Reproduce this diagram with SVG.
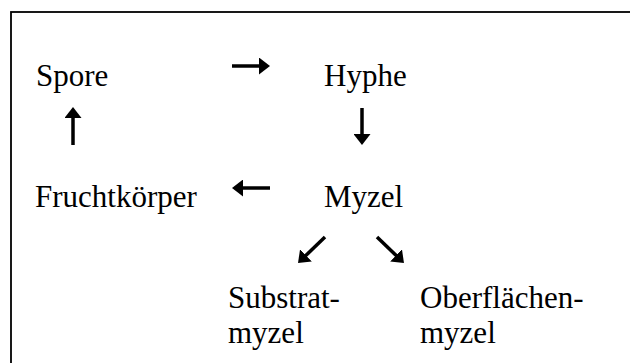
<svg xmlns="http://www.w3.org/2000/svg" width="630" height="363" viewBox="0 0 630 363">
<style>
text{font-family:"Liberation Serif","Times New Roman",serif;font-size:31px;fill:#000}
.c{stroke:#000;stroke-width:3.5;fill:none}
</style>
<defs>
<marker id="ah" markerUnits="userSpaceOnUse" markerWidth="11" markerHeight="17" refX="2" refY="8.5" orient="auto" viewBox="0 0 11 17">
<path d="M0,0 L11,8.5 L0,17 z" fill="#000"/>
</marker>
</defs>
<rect x="11" y="12" width="640" height="370" fill="#fff" stroke="#000" stroke-width="1.8"/>
<g id="spore"><text x="36" y="86">Spore</text></g>
<g id="hyphe"><text x="324" y="86">Hyphe</text></g>
<g id="myzel"><text x="324" y="207">Myzel</text></g>
<g id="fruchtkoerper"><text x="35" y="207">Fruchtkörper</text></g>
<g id="substratmyzel"><text x="228" y="308">Substrat-</text><text x="228" y="343">myzel</text></g>
<g id="oberflaechenmyzel"><text x="420" y="308">Oberflächen-</text><text x="420" y="343">myzel</text></g>
<g id="connectors">
<line class="c" x1="232" y1="66" x2="261" y2="66" marker-end="url(#ah)"/>
<line class="c" x1="362" y1="108" x2="362" y2="136" marker-end="url(#ah)"/>
<line class="c" x1="270" y1="188" x2="241" y2="188" marker-end="url(#ah)"/>
<line class="c" x1="73" y1="145" x2="73" y2="116" marker-end="url(#ah)"/>
<line class="c" x1="325" y1="237" x2="304.5" y2="256.8" marker-end="url(#ah)"/>
<line class="c" x1="377" y1="237" x2="397.5" y2="256.8" marker-end="url(#ah)"/>
</g>
</svg>
